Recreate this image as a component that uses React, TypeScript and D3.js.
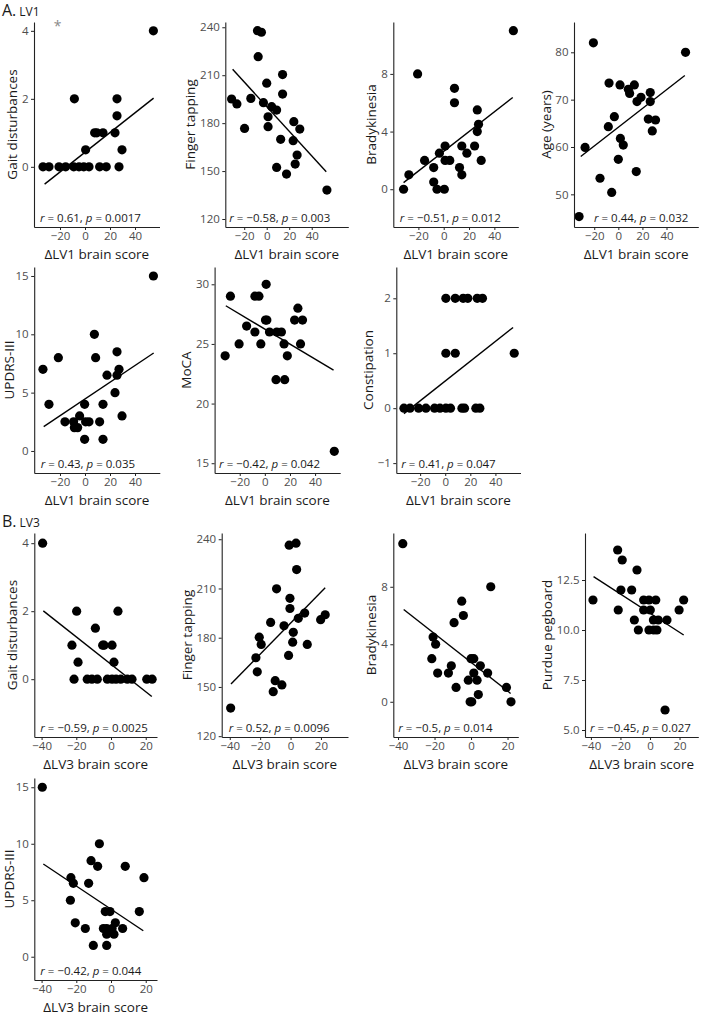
import React, { useEffect, useRef } from "react";
import * as d3 from "d3";

// ---- LV1 (ΔLV1 brain score) ----
const gaitLv1X = [-33.6, -28.8, -20.8, -15.5, -8.5, -9, -4.8, -1, 3.2, 0.5, 7.7, 9.5, 14.4, 11.7, 17, 24, 25.6, 25.6, 27.2, 29.6, 54.7];
const gaitLv1Y = [0, 0, 0, 0, 2, 0, 0, 0, 0, 0.5, 1, 1, 1, 0, 0, 1, 2, 1.5, 0, 0.5, 4];
const gaitLv1Fit = [-32.3, -0.51, 54.9, 2.02];

const tapLv1X = [-31.2, -26.5, -19.7, -14.1, -8.2, -4.7, -7.6, -2.9, 0, 1.2, 1.2, 4.4, 8.8, 8.8, 12.4, 14.1, 14.1, 17.6, 24.1, 23.5, 25.3, 27, 29.4, 53.5];
const tapLv1Y = [195.1, 192, 176.7, 195.5, 237.9, 236.9, 221.6, 192.8, 205, 184, 177.8, 190.3, 188.2, 152.3, 169.9, 210.4, 198.2, 148.1, 180.9, 169, 154.4, 160, 176.3, 138.1];
const tapLv1Fit = [-30.3, 213.7, 52.9, 149.6];

const bradyLv1X = [-31.7, -27.5, -20.6, -15.1, -7.9, -7.9, -5.3, -3.4, 0.5, 1.1, 1.1, 4.8, 8.5, 8.5, 12.5, 14.3, 14.3, 18.3, 24.4, 26.5, 26.5, 27.5, 29.6, 55];
const bradyLv1Y = [0, 1, 8, 2, 1.5, 0.5, 0, 2.5, 0, 3, 2, 2, 7, 6, 1.5, 1, 3, 2.5, 3, 5.5, 4, 4.5, 2, 11];
const bradyLv1Fit = [-31.7, 0.46, 54.5, 6.36];

const ageLv1X = [-32.6, -27.6, -20.7, -15.2, -8.3, -7.7, -5.5, -3.3, 0, 1.4, 1.7, 4.1, 8.3, 9.4, 13.3, 14.9, 15.5, 18.8, 24.9, 26.5, 26.5, 28.2, 30.9, 55.8];
const ageLv1Y = [45.3, 59.9, 82, 53.4, 64.3, 73.5, 50.4, 66.4, 57.4, 73.1, 61.8, 60.4, 72.2, 71.3, 73.1, 54.8, 69.6, 70.5, 65.9, 71.5, 69.6, 63.4, 65.7, 80];
const ageLv1Fit = [-31.2, 58, 55.2, 75.1];

const updrsLv1X = [-33.6, -28.8, -21.3, -16, -9.1, -8.5, -5.9, -4.3, -0.3, -0.3, 0.5, 3.2, 7.5, 8.5, 11.7, 14.4, 14.4, 17.6, 24, 25.6, 25.6, 27.2, 29.6, 54.7];
const updrsLv1Y = [7, 4, 8, 2.5, 2.5, 2, 2, 3, 4, 1, 2.5, 2.5, 10, 8, 2.5, 4, 1, 6.5, 5, 8.5, 6.5, 7, 3, 15];
const updrsLv1Fit = [-33, 2.09, 54.9, 8.4];

const mocaLv1X = [-31.6, -27.4, -20.5, -14.5, -7.9, -7.9, -4.7, -3.2, 1.05, 0.5, 1.6, 3.7, 9.5, 13.2, 8.9, 15.8, 15.3, 17.9, 26.3, 23.7, 30, 28.4, 55.3];
const mocaLv1Y = [24, 29, 25, 26.5, 26, 29, 29, 25, 30, 27, 27, 26, 26, 26, 22, 22, 25, 24, 28, 27, 27, 25, 16];
const mocaLv1Fit = [-31.1, 28.2, 54.7, 22.8];

const constLv1X = [-32.9, -28.1, -21.2, -15.4, -8.5, -4.2, 0.5, 4.2, 0.5, 0.5, 8, 14.3, 18, 8, 13.3, 15.4, 24.4, 27.6, 25.5, 29.7, 55];
const constLv1Y = [0, 0, 0, 0, 0, 0, 0, 0, 2, 1, 2, 2, 2, 1, 0, 0, 0, 0, 2, 2, 1];
const constLv1Fit = [-32.9, -0.1, 54.1, 1.47];

// ---- LV3 (ΔLV3 brain score) ----
const gaitLv3X = [-39.4, -22.5, -21.3, -19.8, -19, -13.7, -11, -7.9, -9, -4.8, -4, 0.6, 1.7, -2.1, 0.6, 2.9, 5.6, 4, 9.4, 12.1, 20.6, 23.7];
const gaitLv3Y = [4, 1, 0, 2, 0.5, 0, 0, 0, 1.5, 1, 1, 1, 0.5, 0, 0, 0, 0, 2, 0, 0, 0, 0];
const gaitLv3Fit = [-39, 2.01, 23.5, -0.51];

const tapLv3X = [-39.4, -22.8, -20.6, -19.3, -21.9, -13.1, -9.2, -10.1, -11.4, -5.7, -4.3, -1.3, -0.4, -0.4, -0.9, 3.6, 4, 1.8, 1.4, 5.1, 9.3, 11, 19.8, 22.8];
const tapLv3Y = [137.1, 167.8, 180.3, 175.9, 159.2, 189.3, 209.8, 153.8, 147.1, 151.2, 187.3, 169.2, 197.8, 204, 236.4, 237.6, 221.5, 183.3, 177.3, 191.8, 195, 175.9, 191, 194];
const tapLv3Fit = [-39.2, 151.8, 22.8, 210.5];

const bradyLv3X = [-37.4, -21.5, -20.8, -19.4, -18.3, -12.4, -10.8, -9.3, -8.2, -5.1, -4.2, -1.5, -0.5, 0.4, 0, 1.5, 1.5, 3.3, 4, 5.1, 9.1, 10.8, 19.4, 21.9];
const bradyLv3Y = [11, 3, 4.5, 4, 2, 2, 2.5, 5.5, 1, 7, 6, 1.5, 0, 0, 3, 3, 2, 1.5, 0.5, 2.5, 2, 8, 1, 0];
const bradyLv3Fit = [-36.9, 6.42, 21.7, 0.58];

const pegLv3X = [-38.6, -21.9, -18.8, -21.5, -19.7, -12.4, -8.8, -10.6, -7.9, -4.3, -0.7, 3.9, -4.3, 0.2, -0.7, 2.5, 4.7, 2.3, 5.6, 11.5, 10.2, 19.7, 22.8];
const pegLv3Y = [11.5, 14, 13.5, 11, 12, 12, 13, 10.5, 10, 11.5, 11.5, 11.5, 11, 11, 10, 10, 10, 10.5, 10.5, 10.5, 6, 11, 11.5];
const pegLv3Fit = [-38.2, 12.67, 22.8, 9.75];

const updrsLv3X = [-39.6, -23.1, -21.7, -23.4, -20.6, -14.8, -12.9, -11.5, -10.2, -7.7, -6.7, -4.4, -3.3, -2.5, -2.5, -0.6, -2.5, 0.6, 1.7, 2.5, 6.7, 8.2, 16.3, 19];
const updrsLv3Y = [15, 7, 6.5, 5, 3, 2.5, 6.5, 8.5, 1, 8, 10, 2.5, 4, 2, 2.5, 4, 1, 2.5, 2, 3, 2.5, 8, 4, 7];
const updrsLv3Fit = [-39, 8.21, 18.6, 2.3];

const lv1Ticks = [-20, 0, 20, 40];
const lv3Ticks = [-40, -20, 0, 20];

interface Panel {
  xs: number[];
  ys: number[];
  fit: number[];
  yLabel: string;
  xLabel: string;
  r: string;
  p: string;
  xTicks: number[];
  yTicks: number[];
  yFmt?: string;
  xDomain: [number, number];
  yDomain: [number, number];
  box: [number, number, number, number]; // left, right, top, bottom
  statDx: number;
}

const LV1 = "ΔLV1 brain score";
const LV3 = "ΔLV3 brain score";

const panels: Panel[] = [
  { xs: gaitLv1X, ys: gaitLv1Y, fit: gaitLv1Fit, yLabel: "Gait disturbances", xLabel: LV1, r: "0.61", p: "0.0017", xTicks: lv1Ticks, yTicks: [0, 2, 4], xDomain: [-40.8, 59.6], yDomain: [-1.77, 4.26], box: [34, 159.5, 22, 227], statDx: 6 },
  { xs: tapLv1X, ys: tapLv1Y, fit: tapLv1Fit, yLabel: "Finger tapping", xLabel: LV1, r: "\u22120.58", p: "0.003", xTicks: lv1Ticks, yTicks: [120, 150, 180, 210, 240], xDomain: [-36.8, 72.5], yDomain: [115, 243.3], box: [225.3, 348.3, 22, 227], statDx: 4 },
  { xs: bradyLv1X, ys: bradyLv1Y, fit: bradyLv1Fit, yLabel: "Bradykinesia", xLabel: LV1, r: "\u22120.51", p: "0.012", xTicks: lv1Ticks, yTicks: [0, 4, 8], xDomain: [-39.8, 58.9], yDomain: [-2.62, 11.6], box: [393.3, 518.3, 22, 227], statDx: 6.5 },
  { xs: ageLv1X, ys: ageLv1Y, fit: ageLv1Fit, yLabel: "Age (years)", xLabel: LV1, r: "0.44", p: "0.032", xTicks: lv1Ticks, yTicks: [50, 60, 70, 80], xDomain: [-36.8, 66.4], yDomain: [43.1, 86.4], box: [574, 698.3, 22, 227], statDx: 20 },
  { xs: updrsLv1X, ys: updrsLv1Y, fit: updrsLv1Fit, yLabel: "UPDRS-III", xLabel: LV1, r: "0.43", p: "0.035", xTicks: lv1Ticks, yTicks: [0, 5, 10, 15], xDomain: [-40.6, 59.8], yDomain: [-1.89, 15.77], box: [34.2, 159.8, 267, 473], statDx: 6.5 },
  { xs: mocaLv1X, ys: mocaLv1Y, fit: mocaLv1Fit, yLabel: "MoCA", xLabel: LV1, r: "\u22120.42", p: "0.042", xTicks: lv1Ticks, yTicks: [15, 20, 25, 30], xDomain: [-40, 60], yDomain: [14.18, 31.45], box: [214.6, 340.2, 267, 473], statDx: 4.5 },
  { xs: constLv1X, ys: constLv1Y, fit: constLv1Fit, yLabel: "Constipation", xLabel: LV1, r: "0.41", p: "0.047", xTicks: lv1Ticks, yTicks: [-1, 0, 1, 2], xDomain: [-39, 60], yDomain: [-1.18, 2.57], box: [396.3, 520.5, 267, 473], statDx: 5 },
  { xs: gaitLv3X, ys: gaitLv3Y, fit: gaitLv3Fit, yLabel: "Gait disturbances", xLabel: LV3, r: "\u22120.59", p: "0.0025", xTicks: lv3Ticks, yTicks: [0, 2, 4], xDomain: [-44.2, 26.5], yDomain: [-1.7, 4.3], box: [34.3, 157, 533, 737], statDx: 6 },
  { xs: tapLv3X, ys: tapLv3Y, fit: tapLv3Fit, yLabel: "Finger tapping", xLabel: LV3, r: "0.52", p: "0.0096", xTicks: lv3Ticks, yTicks: [120, 150, 180, 210, 240], xDomain: [-45.3, 37.8], yDomain: [119.5, 243.8], box: [221.7, 348, 533, 737], statDx: 7 },
  { xs: bradyLv3X, ys: bradyLv3Y, fit: bradyLv3Fit, yLabel: "Bradykinesia", xLabel: LV3, r: "\u22120.5", p: "0.014", xTicks: lv3Ticks, yTicks: [0, 4, 8], xDomain: [-42.6, 25.9], yDomain: [-2.45, 11.74], box: [393.3, 518.3, 533, 737], statDx: 5 },
  { xs: pegLv3X, ys: pegLv3Y, fit: pegLv3Fit, yLabel: "Purdue pegboard", xLabel: LV3, r: "\u22120.45", p: "0.027", xTicks: lv3Ticks, yTicks: [5, 7.5, 10, 12.5], yFmt: ".1f", xDomain: [-44, 32.7], yDomain: [4.65, 14.85], box: [585, 698.3, 533, 737], statDx: 5 },
  { xs: updrsLv3X, ys: updrsLv3Y, fit: updrsLv3Fit, yLabel: "UPDRS-III", xLabel: LV3, r: "\u22120.42", p: "0.044", xTicks: lv3Ticks, yTicks: [0, 5, 10, 15], xDomain: [-44.2, 26.5], yDomain: [-2.06, 15.82], box: [34.3, 157, 778, 980], statDx: 6 },
];

const W = 712;
const H = 1016;

export default function App() {
  const svgRef = useRef<SVGSVGElement>(null);

  useEffect(() => {
    if (!svgRef.current) return;
    const svg = d3.select(svgRef.current);
    svg.selectAll("*").remove();

    const font = "'Open Sans', 'Noto Sans', sans-serif";
    const colors = {
      text: "#1a1a1a",
      tick: "#4d4d4d",
      axis: "#222222",
      dot: "#000000",
    };

    // section labels
    const section = (label: string, sub: string, yPos: number) => {
      const t = svg
        .append("text")
        .attr("x", 2)
        .attr("y", yPos)
        .attr("fill", colors.text)
        .style("font-family", font);
      t.append("tspan").style("font-size", "16px").text(label);
      t.append("tspan").style("font-size", "12px").attr("dx", 3).text(sub);
    };
    section("A.", "LV1", 16);
    section("B.", "LV3", 527);

    panels.forEach((p, idx) => {
      const [l, r, t, b] = p.box;
      const x = d3.scaleLinear().domain(p.xDomain).range([l, r]);
      const y = d3.scaleLinear().domain(p.yDomain).range([b, t]);
      const g = svg.append("g");

      g.selectAll("circle")
        .data(d3.zip(p.xs, p.ys))
        .join("circle")
        .attr("cx", (d) => x(d[0]))
        .attr("cy", (d) => y(d[1]))
        .attr("r", 4.6)
        .attr("fill", colors.dot);

      g.append("line")
        .attr("x1", x(p.fit[0]))
        .attr("y1", y(p.fit[1]))
        .attr("x2", x(p.fit[2]))
        .attr("y2", y(p.fit[3]))
        .attr("stroke", "#000")
        .attr("stroke-width", 1.4);

      const yAxis = g
        .append("g")
        .attr("transform", `translate(${l},0)`)
        .call(
          d3
            .axisLeft(y)
            .tickValues(p.yTicks)
            .tickSize(3)
            .tickPadding(2.5)
            .tickSizeOuter(0)
            .tickFormat(d3.format(p.yFmt ?? "d") as any)
        );
      yAxis.select(".domain").attr("stroke", colors.axis).attr("stroke-width", 1.1);
      yAxis.selectAll(".tick line").attr("stroke", colors.axis);
      yAxis
        .selectAll(".tick text")
        .attr("fill", colors.tick)
        .style("font-family", font)
        .style("font-size", "11.5px");

      const xAxis = g
        .append("g")
        .attr("transform", `translate(0,${b})`)
        .call(
          d3
            .axisBottom(x)
            .tickValues(p.xTicks)
            .tickSize(3)
            .tickPadding(2)
            .tickSizeOuter(0)
            .tickFormat(d3.format("d") as any)
        );
      xAxis.select(".domain").attr("stroke", colors.axis).attr("stroke-width", 1.1);
      xAxis.selectAll(".tick line").attr("stroke", colors.axis);
      xAxis
        .selectAll(".tick text")
        .attr("fill", colors.tick)
        .style("font-family", font)
        .style("font-size", "11.5px");

      const yAxisW = (yAxis.node() as SVGGElement).getBBox().width;
      const titleX = Math.max(l - yAxisW - 9, 9);

      g.append("text")
        .attr("transform", `translate(${titleX},${(t + b) / 2}) rotate(-90)`)
        .attr("text-anchor", "middle")
        .attr("dy", "0.35em")
        .attr("fill", colors.text)
        .style("font-family", font)
        .style("font-size", "13.5px")
        .text(p.yLabel);

      g.append("text")
        .attr("x", (l + r) / 2)
        .attr("y", b + 32)
        .attr("text-anchor", "middle")
        .attr("fill", colors.text)
        .style("font-family", font)
        .style("font-size", "13.5px")
        .text(p.xLabel);

      const stat = g
        .append("text")
        .attr("x", l + p.statDx)
        .attr("y", b - 5)
        .attr("fill", colors.text)
        .style("font-family", font)
        .style("font-size", "11.5px");
      stat.append("tspan").style("font-style", "italic").text("r");
      stat.append("tspan").text(` = ${p.r}, `);
      stat.append("tspan").style("font-style", "italic").text("p");
      stat.append("tspan").text(` = ${p.p}`);

      if (idx === 0) {
        g.append("text")
          .attr("x", x(-22))
          .attr("y", t + 9)
          .attr("text-anchor", "middle")
          .attr("fill", "#8a8a8a")
          .style("font-family", font)
          .style("font-size", "14px")
          .text("*");
      }
    });
  }, []);

  return (
    <svg
      ref={svgRef}
      width={W}
      height={H}
      viewBox={`0 0 ${W} ${H}`}
      style={{ position: "absolute", left: 0, top: 0, background: "#fff" }}
    />
  );
}
